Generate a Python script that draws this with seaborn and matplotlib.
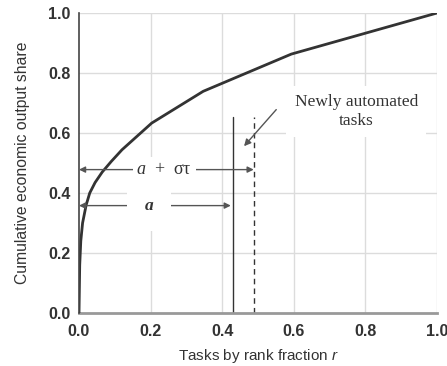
import matplotlib
matplotlib.use("Agg")
import matplotlib.pyplot as plt
import seaborn as sns
import pandas as pd

# Cumulative economic output share vs. task rank fraction
rank_fraction = [0.0, 0.002, 0.005, 0.01, 0.02, 0.03, 0.045, 0.065, 0.09, 0.12, 0.203, 0.347, 0.593, 1.0]
output_share = [0.0, 0.16, 0.24, 0.30, 0.36, 0.40, 0.435, 0.47, 0.505, 0.544, 0.633, 0.739, 0.863, 1.0]

# Automation thresholds
alpha = 0.430          # currently automated fraction
alpha_plus = 0.488     # after newly automated tasks
threshold_top = 0.655

tick_values = [0.0, 0.2, 0.4, 0.6, 0.8, 1.0]
tick_labels = ["0.0", "0.2", "0.4", "0.6", "0.8", "1.0"]

sns.set_theme(style="white")
plt.rcParams["font.family"] = ["Liberation Sans", "DejaVu Sans"]
plt.rcParams["mathtext.fontset"] = "custom"
plt.rcParams["mathtext.rm"] = "Liberation Serif"
plt.rcParams["mathtext.it"] = "Liberation Serif:italic"
plt.rcParams["mathtext.bf"] = "Liberation Serif:bold"
plt.rcParams["mathtext.sf"] = "Liberation Sans:italic"

fig = plt.figure(figsize=(4.47, 3.66), dpi=100)
ax = fig.add_axes([79 / 447, 53 / 366, 358 / 447, 300 / 366])

df = pd.DataFrame({"r": rank_fraction, "share": output_share})

# grid
for v in tick_values[1:]:
    ax.axvline(v, color="#dcdcdc", lw=1.0, zorder=0)
    ax.axhline(v, color="#dcdcdc", lw=1.0, zorder=0)

sns.lineplot(data=df, x="r", y="share", ax=ax, color="#333333", lw=2.0,
             zorder=3, estimator=None, sort=False)

# threshold lines
ax.plot([alpha, alpha], [0, threshold_top], color="#333333", lw=1.0, zorder=2)
ax.plot([alpha_plus, alpha_plus], [0, threshold_top], color="#333333", lw=1.0,
        ls=(0, (4, 3)), zorder=2)

arrow_kw = dict(arrowstyle="<|-|>", color="#555555", lw=1.0,
                mutation_scale=9, shrinkA=0, shrinkB=0)
ax.annotate("", xy=(alpha_plus, 0.478), xytext=(0.0, 0.478),
            arrowprops=arrow_kw, zorder=4)
ax.annotate("", xy=(alpha - 0.006, 0.358), xytext=(0.0, 0.358),
            arrowprops=arrow_kw, zorder=4)

serif = ["Liberation Serif", "DejaVu Serif"]
ax.text(0.238, 0.478, "$a$  +  στ", ha="center", va="center",
        fontsize=13, family=serif, color="#333333",
        bbox=dict(facecolor="white", edgecolor="none", boxstyle="square,pad=0.2"), zorder=5)
ax.text(0.196, 0.358, "a", ha="center", va="center", fontsize=12.5,
        fontstyle="italic", fontweight="bold", family=serif, color="#333333",
        bbox=dict(facecolor="white", edgecolor="none", boxstyle="square,pad=1.0"),
        zorder=5)

ax.text(0.775, 0.672, "Newly automated\ntasks", ha="center", va="center",
        fontsize=12.5, family=serif, color="#333333", linespacing=1.2,
        bbox=dict(facecolor="white", edgecolor="none", pad=6), zorder=5)
ax.annotate("", xy=(0.461, 0.556), xytext=(0.551, 0.678),
            arrowprops=dict(arrowstyle="-|>", color="#555555", lw=1.0,
                            mutation_scale=10, shrinkA=0, shrinkB=0),
            zorder=4)

ax.set_xlim(0, 1.0)
ax.set_ylim(0, 1.0)
ax.set_xticks(tick_values)
ax.set_xticklabels(tick_labels)
ax.set_yticks(tick_values)
ax.set_yticklabels(tick_labels)
for lab in ax.get_xticklabels() + ax.get_yticklabels():
    lab.set_fontweight("bold")
    lab.set_fontsize(11.5)
    lab.set_color("#333333")
ax.tick_params(axis="x", length=0, pad=8)
ax.tick_params(axis="y", length=0, pad=6)

ax.set_xlabel(r"Tasks by rank fraction $\mathsf{r}$", fontsize=11, color="#333333", labelpad=6)
ax.set_ylabel("Cumulative economic output share", fontsize=11.3, color="#333333", labelpad=13)

for side in ["top", "right"]:
    ax.spines[side].set_visible(False)
ax.spines["left"].set_color("#444444")
ax.spines["left"].set_linewidth(1.2)
ax.spines["bottom"].set_color("#999999")
ax.spines["bottom"].set_linewidth(2.0)
ax.spines["left"].set_zorder(6)

fig.savefig("out.png", dpi=100, facecolor="white")
